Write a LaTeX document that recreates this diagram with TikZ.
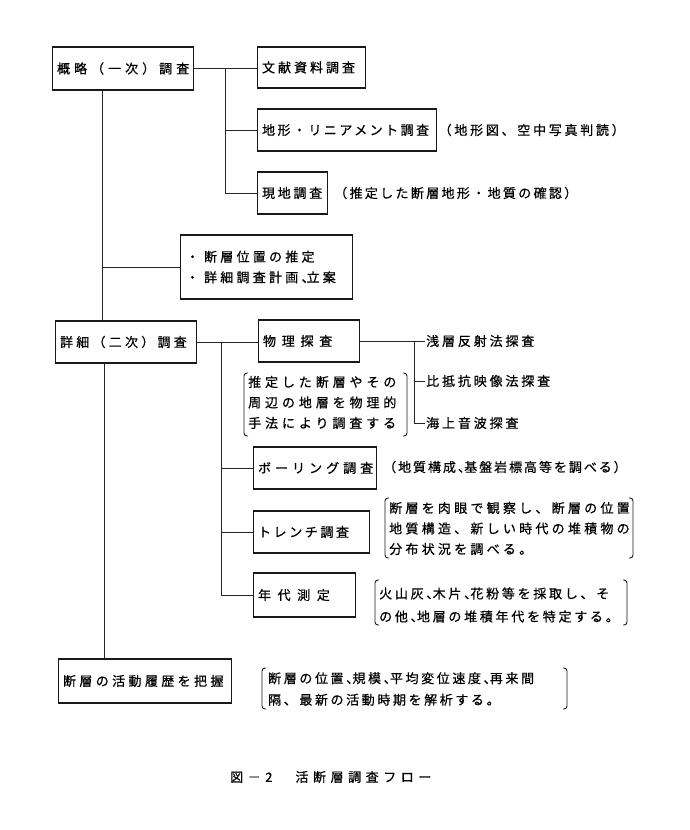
\documentclass[tikz,border=0pt]{standalone}
\usepackage{fontspec}
\setmainfont{Noto Sans CJK JP}
\newfontfamily\jp{Noto Sans CJK JP}[FakeBold=0.6]
\newcommand\jpf[2]{\jp\fontsize{13}{#2}\selectfont\addfontfeature{LetterSpace=#1}}
\newcommand\nc{、\kern-6.7pt }
\begin{document}
\begin{tikzpicture}[x=1pt,y=-1pt,
  box/.style={draw=black!90, line width=1.1pt, inner xsep=4.5pt, inner ysep=0pt,
    align=left, anchor=west, font=\jpf{#1}{15}},
  ln/.style={draw=black!85, line width=0.8pt},
  txt/.style={inner sep=0pt, anchor=west, align=left, font=\jpf{#1}{22}},
  brk/.style={draw=black!90, line width=0.9pt, rounded corners=3pt}]
\useasboundingbox[fill=white] (0,0) rectangle (690,830);
\newcommand\brkt[4]{%
  \draw[brk] ({#1+4},#3) -- (#1,#3) -- (#1,#4) -- ({#1+4},#4);
  \draw[brk] ({#2-4},#3) -- (#2,#3) -- (#2,#4) -- ({#2-4},#4);}

% boxes
\node[box=31, text width=132pt, minimum height=43pt] (n1) at (52,68.5) {概略（一次）調査};
\node[box=23, text width=99pt, minimum height=41pt] (n2) at (257,67.5) {文献資料調査};
\node[box=19, text width=170pt, minimum height=42pt] (n3) at (257,130) {地形・リニアメント調査};
\node[box=21, text width=61pt, minimum height=42pt] (n4) at (257,193) {現地調査};
\node[box=25, inner xsep=5.5pt, text width=161pt, minimum height=64pt,
  font=\jpf{25}{20.6}] (n5) at (180,267) {・\hspace{5pt}断層位置の推定\\・\hspace{5pt}詳細調査計画、\kern-8pt 立案};
\node[box=25, text width=132pt, minimum height=42pt] (n6) at (55,342) {詳細（二次）調査};
\node[box=25, text width=92pt, minimum height=42pt] (n7) at (258,341) {物\hspace{5.75pt}理\hspace{5.75pt}探\hspace{5.75pt}査};
\node[box=31, text width=114pt, minimum height=42pt] (n8) at (253,468) {ボーリング調査};
\node[box=20, text width=107pt, minimum height=42pt] (n9) at (253,532) {トレンチ調査};
\node[box=25, text width=93pt, minimum height=44pt] (n10) at (253,595) {年\hspace{6.6pt}代\hspace{6.6pt}測\hspace{6.6pt}定};
\node[box=26, text width=164pt, minimum height=44pt] (n11) at (58,681) {断層の活動履歴を把握};

% notes
\node[txt=21] (c3) at (438.5,130) {（地形図、空中写真判読）};
\node[txt=18] (c4) at (334,193) {（推定した断層地形・地質の確認）};
\node[txt=15] (c8) at (383,467) {（地質構成\nc 基盤岩標高等を調べる）};

% leaves
\node[txt=22, inner xsep=1pt] (l1) at (425,341) {浅層反射法探査};
\node[txt=22, inner xsep=1pt] (l2) at (425,381) {比抵抗映像法探査};
\node[txt=22, inner xsep=1pt] (l3) at (425,423) {海上音波探査};

% bracket notes
\brkt{244}{407}{373}{436}
\node[txt=30, font=\jpf{30}{20.5}] (p) at (248,402.5) {推定した断層やその\\周辺の地層を物理的\\手法により調査する};
\brkt{385}{633}{498}{558}
\node[txt=25, font=\jpf{25}{20.5}] (tr) at (389,528.5) {断層を肉眼で観察し、断層の位置\\地質構造、新しい時代の堆積物の\\分布状況を調べる。};
\brkt{375}{627}{580}{625}
\node[txt=21, font=\jpf{21}{23}] (ag) at (379,605) {火山灰\nc 木片\nc 花粉等を採取し、そ\\の他\nc 地層の堆積年代を特定する。};
\brkt{262}{567}{668}{709}
\node[txt=20, font=\jpf{20}{21.5}] (ac) at (268,689) {断層の位置\nc 規模\nc 平均変位速度\nc 再来間\\隔、最新の活動時期を解析する。};

% caption
\node[txt=35] (cap) at (230,777) {図－2\hspace{23pt}活断層調査フロー};

% connectors
\draw[ln] (n1.east) -- (n1.east -| n2.west);
\coordinate (t1) at (225,68);
\draw[ln] (t1) |- (n4.west);
\draw[ln] (t1 |- n3.west) -- (n3.west);
\coordinate (m1) at (102,0);
\coordinate (m2) at (104,0);
\draw[ln] (n1.south -| m1) -- (n6.north -| m1);
\draw[ln] (n5.west -| m1) -- (n5.west);
\draw[ln] (n6.south -| m2) -- (n11.north -| m2);
\draw[ln] (n6.east) -- (n6.east -| n7.west);
\coordinate (t2) at (221,342);
\draw[ln] (t2) |- (n10.west);
\draw[ln] (t2 |- n8.west) -- (n8.west);
\draw[ln] (t2 |- n9.west) -- (n9.west);
\coordinate (t3) at (414,341);
\draw[ln] (n7.east) -- (l1.west);
\draw[ln] (t3) |- (l3.west);
\draw[ln] (t3 |- l2.west) -- (l2.west);
\end{tikzpicture}
\end{document}
